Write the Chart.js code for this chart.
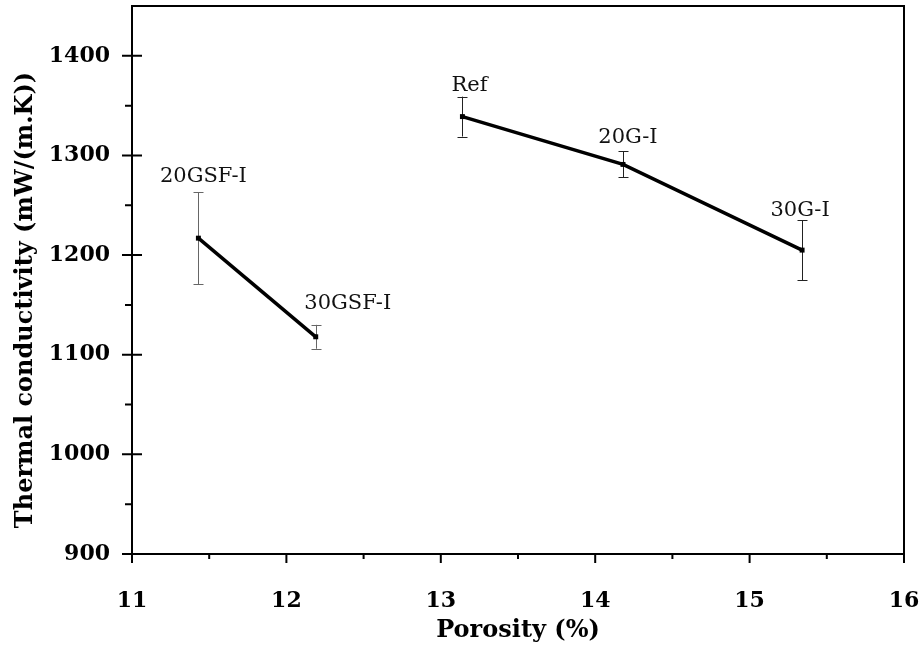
<!DOCTYPE html>
<html>
<head>
<meta charset="utf-8">
<script src="https://cdn.jsdelivr.net/npm/chart.js@4/dist/chart.umd.min.js"></script>
<style>
  html, body { margin: 0; padding: 0; background: #fff; }
  #wrap { width: 920px; height: 646px; }
</style>
</head>
<body>
<div id="wrap"><canvas id="chart" width="920" height="646"></canvas></div>
<script>
// values
const gsfNames = ['20GSF-I', '30GSF-I'];
const gsfPorosity = [11.43, 12.19];
const gsfConductivity = [1217, 1118];
const gsfError = [46, 12];

const gNames = ['Ref', '20G-I', '30G-I'];
const gPorosity = [13.14, 14.18, 15.34];
const gConductivity = [1339, 1291, 1205];
const gError = [20, 13, 30];

const xTicks = [11, 12, 13, 14, 15, 16];
const yTicks = [900, 1000, 1100, 1200, 1300, 1400];

// label nudges in px: [dx, gap above error cap]
const gsfLabelShift = [[5, 10], [32, 16]];
const gLabelShift = [[7, 6], [5, 8], [-2, 4]];

const serif = '"DejaVu Serif", "Liberation Serif", serif';

function toPoints(xs, ys) {
    return xs.map((x, i) => ({ x: x, y: ys[i] }));
}

function noPad(s) {
    s.paddingTop = 0; s.paddingBottom = 0; s.paddingLeft = 0; s.paddingRight = 0;
}

const errorBars = {
    id: 'errorBars',
    beforeDatasetsDraw(chart) {
        const ctx = chart.ctx;
        const ys = chart.scales.y;
        chart.data.datasets.forEach((ds, di) => {
            const meta = chart.getDatasetMeta(di);
            ctx.save();
            ctx.strokeStyle = ds.errColor;
            ctx.lineWidth = 1;
            meta.data.forEach((pt, i) => {
                const v = ds.data[i].y;
                const top = ys.getPixelForValue(v + ds.err[i]);
                const bot = ys.getPixelForValue(v - ds.err[i]);
                const x = Math.round(pt.x) + 0.5;
                ctx.beginPath();
                ctx.moveTo(x, top); ctx.lineTo(x, bot);
                ctx.moveTo(x - 5, Math.round(top) + 0.5); ctx.lineTo(x + 5, Math.round(top) + 0.5);
                ctx.moveTo(x - 5, Math.round(bot) + 0.5); ctx.lineTo(x + 5, Math.round(bot) + 0.5);
                ctx.stroke();
            });
            ctx.restore();
        });
    },
    afterDatasetsDraw(chart) {
        const ctx = chart.ctx;
        const ys = chart.scales.y;
        ctx.save();
        ctx.fillStyle = '#111';
        ctx.font = '21px ' + serif;
        ctx.textAlign = 'center';
        ctx.textBaseline = 'alphabetic';
        chart.data.datasets.forEach((ds, di) => {
            const meta = chart.getDatasetMeta(di);
            meta.data.forEach((pt, i) => {
                const top = ys.getPixelForValue(ds.data[i].y + ds.err[i]);
                const s = ds.shift[i];
                ctx.fillText(ds.names[i], pt.x + s[0], top - s[1]);
            });
        });
        ctx.restore();
    }
};

const frame = {
    id: 'frame',
    afterDraw(chart) {
        const ctx = chart.ctx;
        const a = chart.chartArea;
        const xs = chart.scales.x;
        const ys = chart.scales.y;
        ctx.save();
        ctx.strokeStyle = '#000';
        ctx.lineWidth = 2;
        ctx.strokeRect(a.left, a.top, a.right - a.left, a.bottom - a.top);
        ctx.beginPath();
        yTicks.forEach(v => {
            const y = ys.getPixelForValue(v);
            ctx.moveTo(a.left - 10, y); ctx.lineTo(a.left + 10, y);
            const m = ys.getPixelForValue(v + 50);
            if (v + 50 < ys.max) { ctx.moveTo(a.left - 7, m); ctx.lineTo(a.left, m); }
        });
        xTicks.forEach(v => {
            const x = xs.getPixelForValue(v);
            ctx.moveTo(x, a.bottom); ctx.lineTo(x, a.bottom + 9);
            if (v + 0.5 < xs.max) {
                const m = xs.getPixelForValue(v + 0.5);
                ctx.moveTo(m, a.bottom); ctx.lineTo(m, a.bottom + 5);
            }
        });
        ctx.stroke();
        // x tick labels
        ctx.fillStyle = '#000';
        ctx.font = 'bold 22px ' + serif;
        ctx.textAlign = 'center';
        ctx.textBaseline = 'alphabetic';
        xTicks.forEach(v => ctx.fillText(String(v), xs.getPixelForValue(v), a.bottom + 53));
        // y axis title
        ctx.translate(26, 300);
        ctx.rotate(-Math.PI / 2);
        ctx.font = 'bold 24px ' + serif;
        ctx.textBaseline = 'middle';
        ctx.fillText('Thermal conductivity (mW/(m.K))', 0, 0);
        ctx.restore();
    }
};

new Chart(document.getElementById('chart'), {
    type: 'scatter',
    data: {
        datasets: [
            {
                data: toPoints(gsfPorosity, gsfConductivity),
                err: gsfError, names: gsfNames, shift: gsfLabelShift, errColor: '#666'
            },
            {
                data: toPoints(gPorosity, gConductivity),
                err: gError, names: gNames, shift: gLabelShift, errColor: '#222'
            }
        ].map(ds => Object.assign(ds, {
            showLine: true,
            borderColor: '#000',
            backgroundColor: '#000',
            borderWidth: 3.5,
            pointStyle: 'rect',
            pointRadius: 3.5,
            pointBorderWidth: 0
        }))
    },
    options: {
        responsive: false,
        animation: false,
        layout: { padding: { top: 6, right: 16, left: 0, bottom: 0 } },
        plugins: { legend: { display: false }, tooltip: { enabled: false } },
        scales: {
            x: {
                type: 'linear',
                min: 11, max: 16,
                afterBuildTicks: s => { s.ticks = xTicks.map(v => ({ value: v })); },
                afterFit: s => { s.height = 92; noPad(s); },
                grid: { display: false, drawTicks: false },
                border: { display: false },
                ticks: { display: false },
                title: {
                    display: true, text: 'Porosity (%)', color: '#000',
                    padding: { top: 0, bottom: 1 },
                    font: { family: serif, size: 24, weight: 'bold' }
                }
            },
            y: {
                min: 900, max: 1450,
                afterBuildTicks: s => { s.ticks = yTicks.map(v => ({ value: v })); },
                afterFit: s => { s.width = 132; noPad(s); },
                grid: { display: false, drawTicks: false },
                border: { display: false },
                ticks: {
                    color: '#000', padding: 22, callback: v => String(v),
                    font: { family: serif, size: 22, weight: 'bold' }
                }
            }
        }
    },
    plugins: [errorBars, frame]
});
</script>
</body>
</html>
